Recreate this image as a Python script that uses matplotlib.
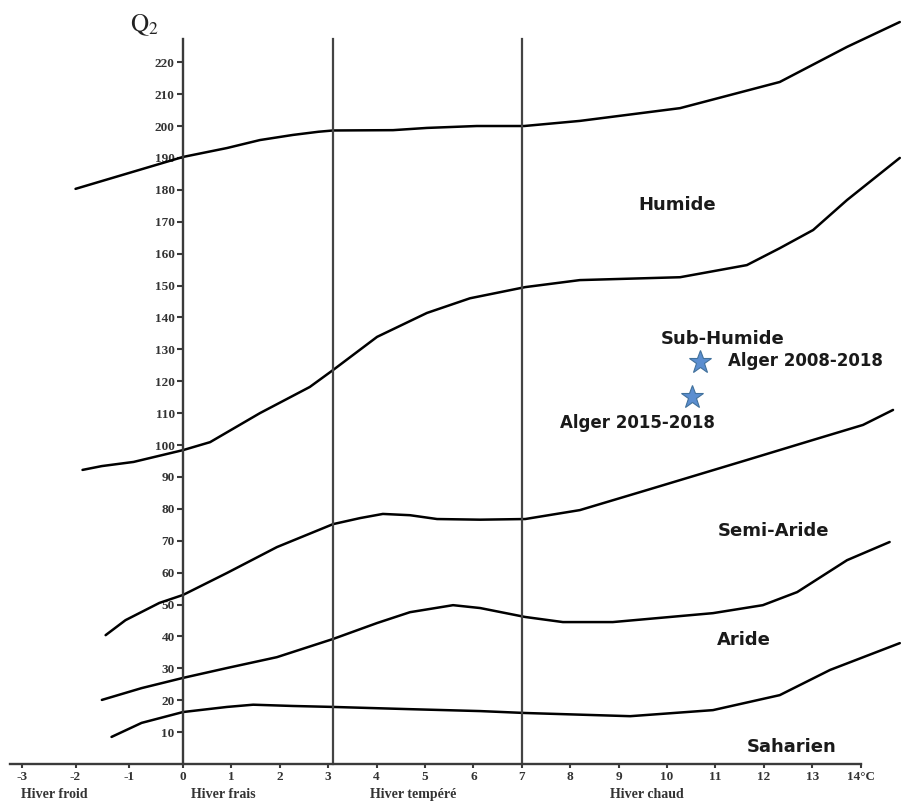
import matplotlib.pyplot as plt
import numpy as np

plt.rcParams['axes.unicode_minus'] = False
plt.rcParams['mathtext.fontset'] = 'stix'

# limit curves of the Emberger climagram (x = m in degC, y = Q2)
c1_x = [-2.0, 0.0, 0.91, 1.59, 2.27, 2.8, 3.10, 4.34, 5.04, 6.07, 7.05, 8.2, 10.27, 12.33, 13.72, 14.81]
c1_y = [180.3, 190.3, 193.1, 195.6, 197.2, 198.2, 198.6, 198.7, 199.4, 200.0, 200.0, 201.6, 205.6, 213.8, 224.8, 232.6]

c2_x = [-1.87, -1.51, -0.92, 0.0, 0.56, 1.59, 2.62, 3.10, 4.01, 5.04, 5.93, 7.07, 8.2,
        10.27, 11.65, 12.33, 13.02, 13.72, 14.81]
c2_y = [92.2, 93.4, 94.7, 98.4, 100.9, 110.0, 118.2, 123.5, 133.9, 141.4, 146.0, 149.5, 151.7,
        152.6, 156.4, 161.7, 167.4, 176.8, 190.0]

c3_x = [-1.44, -1.07, -0.44, 0.0, 0.91, 1.94, 3.10, 3.66, 4.13, 4.69, 5.25, 6.14, 7.07, 8.2,
        9.59, 11.65, 13.02, 14.05, 14.67]
c3_y = [40.4, 45.1, 50.5, 53.0, 59.9, 68.0, 75.2, 77.1, 78.4, 78.0, 76.8, 76.6, 76.8, 79.6,
        85.9, 95.3, 101.6, 106.3, 111.0]

c4_x = [-1.51, -0.77, 0.0, 0.91, 1.94, 3.10, 4.01, 4.69, 5.58, 6.14, 7.07, 7.85, 8.88,
        10.95, 11.98, 12.69, 13.72, 14.6]
c4_y = [20.1, 23.8, 27.0, 30.1, 33.5, 39.2, 44.2, 47.6, 49.8, 48.9, 46.1, 44.5, 44.5,
        47.3, 49.8, 53.9, 63.9, 69.6]

c5_x = [-1.33, -0.77, 0.0, 0.91, 1.45, 2.27, 3.10, 4.69, 6.14, 7.07, 9.24, 10.95, 12.33, 13.37, 14.81]
c5_y = [8.5, 12.9, 16.3, 17.9, 18.6, 18.2, 17.9, 17.2, 16.6, 16.0, 15.0, 16.9, 21.6, 29.5, 37.9]

# Alger stations
station_names = ['Alger 2008-2018', 'Alger 2015-2018']
station_m = [10.68, 10.52]
station_q2 = [126.0, 115.0]

# bioclimatic zones
zone_names = ['Humide', 'Sub-Humide', 'Semi-Aride', 'Aride', 'Saharien']
zone_x = [10.22, 11.15, 12.21, 11.58, 12.57]
zone_y = [175.2, 133.2, 73.0, 38.9, 5.3]

# winter variants
winter_names = ['Hiver froid', 'Hiver frais', 'Hiver tempéré', 'Hiver chaud']
winter_x = [-2.40, 0.83, 4.75, 9.59]
winter_bounds = [0, 3.1, 7]

x_ticks = list(range(-3, 15))
x_tick_labels = [str(v) for v in range(-3, 14)] + ['14°C']
y_ticks = list(range(10, 230, 10))

fig = plt.figure(figsize=(9.01, 8.02), dpi=100)
ax = fig.add_axes([0, 0, 1, 1])

# negative side of the axis is drawn a bit wider than the positive side
k = 1.11
ax.set_xscale('function', functions=(lambda v: np.where(v < 0, v * k, v),
                                     lambda v: np.where(v < 0, v / k, v)))
ax.set_xlim(-3.406, 14.835)
ax.set_ylim(-11.9, 239.5)

for cx, cy in [(c1_x, c1_y), (c2_x, c2_y), (c3_x, c3_y), (c4_x, c4_y), (c5_x, c5_y)]:
    ax.plot(cx, cy, color='black', lw=1.8, solid_capstyle='round', solid_joinstyle='round')

for b in winter_bounds[1:]:
    ax.plot([b, b], [0, 227.3], color='#444444', lw=1.6)

for s in ['top', 'right']:
    ax.spines[s].set_visible(False)
ax.spines['left'].set_position(('data', 0))
ax.spines['bottom'].set_position(('data', 0))
ax.spines['left'].set_bounds(0, 227.3)
ax.spines['bottom'].set_bounds(-3.22, 14.0)
for s in ['left', 'bottom']:
    ax.spines[s].set_color('#3a3a3a')
    ax.spines[s].set_linewidth(1.7)

tick_font = {'family': 'Liberation Serif', 'weight': 'bold', 'size': 9.5, 'color': '#333333'}
ax.set_xticks(x_ticks)
ax.set_xticklabels(x_tick_labels, fontdict=tick_font)
ax.set_yticks(y_ticks)
ax.set_yticklabels([str(v) for v in y_ticks], fontdict=tick_font)
ax.tick_params(axis='x', direction='out', length=3, width=1.5, color='#3a3a3a', pad=2)
ax.tick_params(axis='y', direction='out', length=4, width=1.5, color='#3a3a3a', pad=2)

ax.text(-0.71, 231.7, r'$\mathrm{Q}_{2}$', fontsize=18, ha='center', va='center', color='#222222')

for name, wx in zip(winter_names, winter_x):
    ax.text(wx, -9.7, name, family='Liberation Serif', weight='bold', fontsize=10,
            ha='center', va='center', color='#333333')

for name, zx, zy in zip(zone_names, zone_x, zone_y):
    ax.text(zx, zy, name, fontsize=13, weight='bold', ha='center', va='center', color='#1a1a1a')

ax.plot(station_m, station_q2, linestyle='none', marker='*', markersize=17,
        color='#5b8ed0', markeredgecolor='#41719c', markeredgewidth=0.8)
ax.text(11.26, 126.3, station_names[0], fontsize=12, weight='bold', ha='left', va='center',
        color='#1a1a1a')
ax.text(9.39, 106.9, station_names[1], fontsize=12, weight='bold', ha='center', va='center',
        color='#1a1a1a')

fig.savefig('out.png', dpi=100)
